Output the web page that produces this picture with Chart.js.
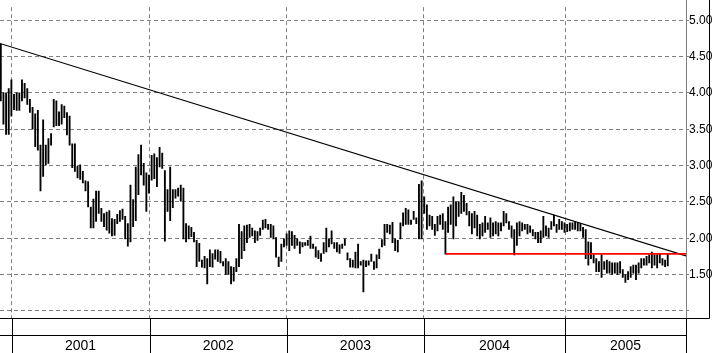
<!DOCTYPE html>
<html>
<head>
<meta charset="utf-8">
<script src="https://cdn.jsdelivr.net/npm/chart.js@4/dist/chart.umd.min.js"></script>
<style>
html,body{margin:0;padding:0;background:#fff;}
#wrap{width:717px;height:353px;position:relative;}
</style>
</head>
<body>
<div id="wrap"><canvas id="c" width="717" height="353"></canvas></div>
<script>
// Weekly high / low values (Dec 2000 - Sep 2005)
const weeklyHigh = [
4.67,4.00,4.00,4.06,4.18,3.98,4.00,4.00,4.18,4.13,4.06,3.91,3.80,3.71,3.76,3.28,3.63,3.28,3.37,3.44,
3.91,3.89,3.74,3.84,3.82,3.73,3.68,3.30,3.30,2.99,3.01,2.92,2.79,2.78,2.43,2.54,2.65,2.65,2.41,2.34,
2.36,2.38,2.27,2.26,2.33,2.38,2.40,2.30,2.20,2.73,2.53,2.98,3.15,3.28,3.03,2.90,2.87,3.14,3.16,3.11,
3.25,3.17,2.93,2.67,2.98,2.67,2.67,2.69,2.73,2.69,2.20,2.17,2.15,2.08,1.97,1.93,1.70,1.75,1.72,1.84,
1.79,1.84,1.84,1.82,1.68,1.72,1.68,1.61,1.60,1.72,2.19,2.09,2.17,2.18,2.19,2.14,2.10,2.09,2.14,2.25,
2.26,2.19,2.19,2.17,2.01,1.74,1.92,1.99,2.06,2.10,2.09,2.04,1.99,1.95,1.94,1.94,1.97,2.03,1.92,1.88,
1.83,1.79,1.94,2.14,1.99,2.10,1.94,1.94,1.91,1.92,1.99,1.80,1.72,1.70,1.81,1.92,1.68,1.70,1.69,1.69,
1.78,1.68,1.77,1.85,1.98,2.19,2.19,2.18,2.22,1.99,1.97,2.21,2.35,2.41,2.39,2.25,2.37,2.28,2.74,2.79,
2.57,2.46,2.32,2.30,2.19,2.30,2.32,2.34,2.23,2.43,2.46,2.57,2.50,2.50,2.63,2.59,2.48,2.37,2.34,2.37,
2.32,2.19,2.21,2.30,2.21,2.28,2.21,2.23,2.21,2.21,2.37,2.34,2.23,2.17,2.12,2.21,2.23,2.21,2.19,2.19,
2.17,2.12,2.08,2.08,2.10,2.30,2.17,2.14,2.23,2.32,2.19,2.26,2.23,2.21,2.19,2.21,2.21,2.22,2.21,2.20,
2.15,2.12,1.95,1.94,1.77,1.72,1.68,1.77,1.68,1.70,1.68,1.66,1.66,1.66,1.68,1.57,1.50,1.54,1.61,1.63,
1.63,1.66,1.72,1.72,1.75,1.77,1.81,1.77,1.77,1.79,1.72,1.70,1.78
];
const weeklyLow = [
3.89,3.57,3.43,3.43,3.68,3.77,3.76,3.76,3.89,3.93,3.84,3.73,3.50,3.26,3.21,2.65,2.85,3.01,3.03,3.28,
3.53,3.55,3.55,3.57,3.66,3.42,3.28,2.97,2.92,2.83,2.81,2.76,2.65,2.43,2.14,2.14,2.23,2.34,2.23,2.16,
2.11,2.07,2.03,2.04,2.20,2.23,2.26,1.99,1.89,1.95,2.16,2.24,2.60,2.87,2.73,2.37,2.62,2.80,2.82,2.71,
2.98,2.96,1.96,2.37,2.24,2.42,2.55,2.58,2.51,1.99,1.95,1.99,2.02,1.95,1.61,1.68,1.60,1.59,1.37,1.61,
1.60,1.71,1.68,1.66,1.62,1.50,1.50,1.37,1.41,1.54,1.61,1.72,1.83,1.94,2.01,2.03,1.94,1.97,2.04,2.12,
2.14,2.12,2.01,1.99,1.74,1.61,1.68,1.88,1.90,1.83,1.90,1.86,1.90,1.79,1.88,1.90,1.90,1.86,1.86,1.74,
1.72,1.68,1.79,1.81,1.88,1.92,1.86,1.81,1.79,1.86,1.90,1.70,1.60,1.60,1.59,1.59,1.63,1.26,1.61,1.63,
1.68,1.57,1.59,1.72,1.88,1.90,2.08,2.06,1.94,1.83,1.81,1.99,2.17,2.19,2.19,2.19,2.26,2.20,1.99,1.99,
2.34,2.12,2.17,2.12,2.04,2.10,2.19,2.12,1.78,2.08,2.19,1.99,2.17,2.30,2.34,2.37,2.32,2.17,2.06,2.14,
2.03,1.99,2.03,2.08,2.12,2.01,2.03,2.06,2.03,2.10,2.17,2.21,2.12,2.01,1.77,1.90,2.03,2.10,2.12,2.06,
2.08,2.03,1.99,1.94,1.94,2.01,2.03,2.01,2.12,2.17,2.08,2.12,2.12,2.08,2.09,2.10,2.12,2.12,2.10,2.10,
2.01,1.72,1.63,1.72,1.66,1.54,1.54,1.46,1.57,1.52,1.52,1.50,1.52,1.50,1.52,1.46,1.39,1.43,1.46,1.52,
1.43,1.52,1.59,1.63,1.63,1.66,1.59,1.63,1.59,1.66,1.63,1.61,1.62
];
// Year boundaries (week index) and labels
const yearStarts = [4.05, 56.2, 108.1, 159.9, 213.2];
const yearLabels = ["2001", "2002", "2003", "2004", "2005"];
const weekMin = -0.3, weekMax = 258.9;
// Price axis
const priceTicks = [1.0, 1.5, 2.0, 2.5, 3.0, 3.5, 4.0, 4.5, 5.0];
const priceMin = 0.902, priceMax = 5.179;
// Trend line (black) and support line (red)
const trendLine = [{x: -0.3, y: 4.68}, {x: 258.9, y: 1.757}];
const supportLine = [{x: 168, y: 1.785}, {x: 258.9, y: 1.785}];

const yearMids = yearStarts.map((s, i) => (s + (i + 1 < yearStarts.length ? yearStarts[i + 1] : weekMax)) / 2);
const barData = weeklyHigh.map((h, i) => ({x: i, y: [weeklyLow[i], h]}));

const FONT = '"Liberation Sans Narrow", "Arial Narrow", "Liberation Sans", Arial, sans-serif';

const framePlugin = {
  id: 'frame',
  afterDraw(chart) {
    const ctx = chart.ctx;
    const a = chart.chartArea;
    const xs = chart.scales.x;
    const H = chart.height;
    ctx.save();
    ctx.lineWidth = 1;
    const line = (x1, y1, x2, y2) => { ctx.beginPath(); ctx.moveTo(x1, y1); ctx.lineTo(x2, y2); ctx.stroke(); };
    const b = Math.round(a.bottom) + 0.5;
    const r = Math.round(a.right) + 0.5;
    ctx.strokeStyle = '#808080';
    line(r, 0, r, b);
    ctx.strokeStyle = '#000';
    line(0, b, r + 23, b);
    line(r + 23, 0, r + 23, b);
    line(0, b + 17, r, b + 17);
    line(r, b, r, H);
    yearStarts.forEach(v => {
      const px = Math.round(xs.getPixelForValue(v)) + 0.5;
      line(px, b, px, H);
    });
    ctx.restore();
  }
};

new Chart(document.getElementById('c'), {
  data: {
    datasets: [
      {
        type: 'bar',
        data: barData,
        backgroundColor: '#000',
        borderWidth: 0,
        barThickness: 1.2,
        xAxisID: 'x',
        yAxisID: 'y',
        order: 3
      },
      {
        type: 'line',
        data: trendLine,
        borderColor: '#000',
        borderWidth: 1.2,
        pointRadius: 0,
        xAxisID: 'x',
        yAxisID: 'y',
        order: 2
      },
      {
        type: 'line',
        data: supportLine,
        borderColor: '#ff0000',
        borderWidth: 1.8,
        pointRadius: 0,
        xAxisID: 'x',
        yAxisID: 'y',
        order: 1
      }
    ]
  },
  options: {
    responsive: false,
    animation: false,
    events: [],
    layout: {padding: 0},
    plugins: {legend: {display: false}, tooltip: {enabled: false}},
    scales: {
      x: {
        type: 'linear',
        position: 'bottom',
        offset: false,
        min: weekMin,
        max: weekMax,
        afterBuildTicks: s => { s.ticks = yearStarts.map(v => ({value: v})); },
        afterFit: s => { s.height = 0; },
        ticks: {display: false},
        border: {display: false, dash: [4, 3]},
        grid: {offset: false, color: '#808080', lineWidth: 1, drawTicks: false}
      },
      x2: {
        type: 'linear',
        position: 'bottom',
        offset: false,
        min: weekMin,
        max: weekMax,
        afterBuildTicks: s => { s.ticks = yearMids.map(v => ({value: v})); },
        afterFit: s => { s.height = 35; },
        ticks: {
          autoSkip: false,
          maxRotation: 0,
          padding: 20,
          color: '#000',
          font: {family: FONT, size: 14},
          callback: (v, i) => yearLabels[i]
        },
        border: {display: false},
        grid: {display: false, offset: false, drawTicks: false}
      },
      y: {
        type: 'linear',
        position: 'right',
        min: priceMin,
        max: priceMax,
        afterBuildTicks: s => { s.ticks = priceTicks.map(v => ({value: v})); },
        afterFit: s => { s.width = 31; },
        ticks: {
          padding: 0,
          color: '#000',
          font: {family: FONT, size: 12},
          callback: v => (v === 1 ? '' : Number(v).toFixed(2))
        },
        border: {display: false, dash: [4, 3]},
        grid: {color: '#808080', lineWidth: 1, drawTicks: true, tickLength: 3}
      }
    }
  },
  plugins: [framePlugin]
});
</script>
</body>
</html>
